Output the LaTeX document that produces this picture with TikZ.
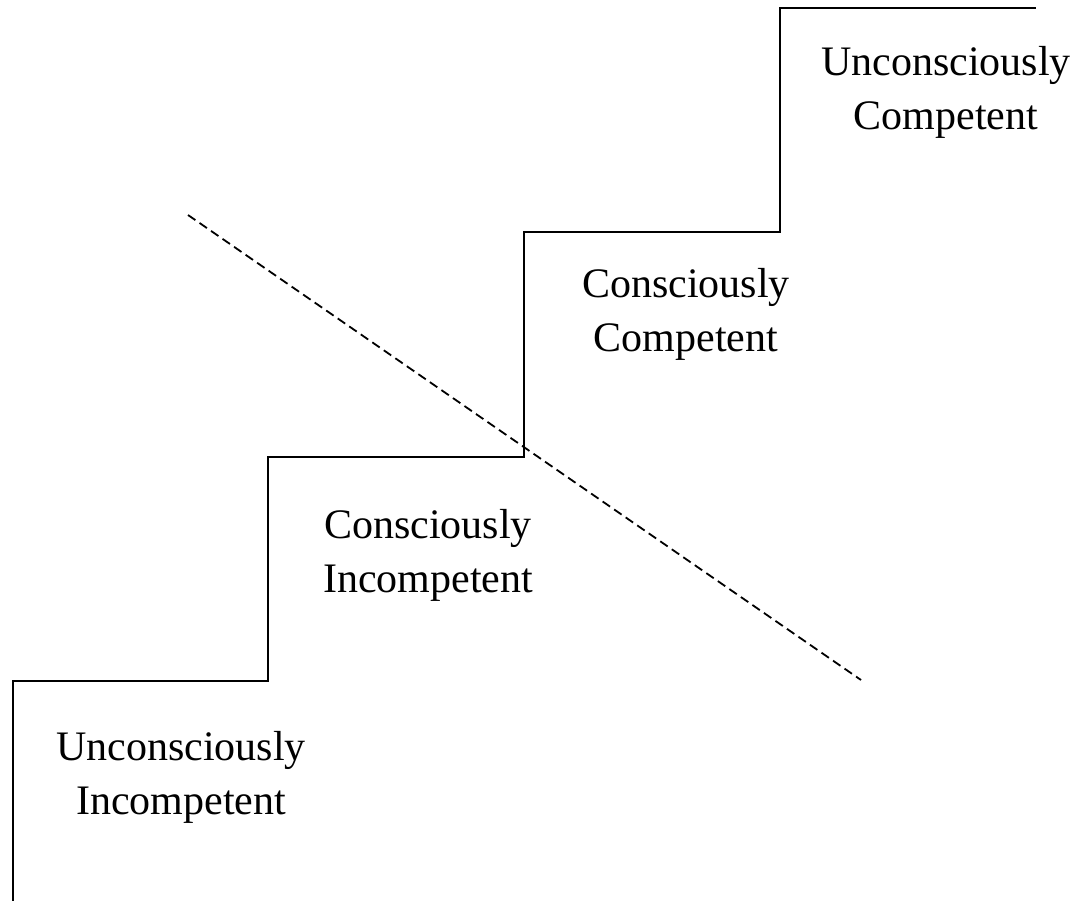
\documentclass[tikz,border=0pt]{standalone}
\usepackage{fontspec}
\setmainfont{Liberation Serif}
\begin{document}
\begin{tikzpicture}[x=1pt,y=-1pt,
  stair/.style={line width=1.8pt,line join=miter},
  divide/.style={line width=1.8pt,dash pattern=on 9pt off 5pt},
  stage/.style={align=center,inner sep=0pt,font=\fontsize{42}{54}\selectfont}]
\useasboundingbox (0,0) rectangle (1081,901);
\coordinate (s0) at (13,901);
\coordinate (s1) at (13,681);
\coordinate (s2) at (268,681);
\coordinate (s3) at (268,457);
\coordinate (s4) at (524,457);
\coordinate (s5) at (524,232);
\coordinate (s6) at (780,232);
\coordinate (s7) at (780,8);
\coordinate (s8) at (1036,8);
\draw[stair] (s0) -- (s1) -- (s2) -- (s3) -- (s4) -- (s5) -- (s6) -- (s7) -- (s8);
\coordinate (d0) at (188,215);
\coordinate (d1) at (861,680);
\draw[divide] (d0) -- (d1);
\node[stage] (ui) at (181,777) {Unconsciously\\Incompetent};
\node[stage] (ci) at (428,555) {Consciously\\Incompetent};
\node[stage] (cc) at (686,314) {Consciously\\Competent};
\node[stage] (uc) at (946,92) {Unconsciously\\Competent};
\end{tikzpicture}
\end{document}
